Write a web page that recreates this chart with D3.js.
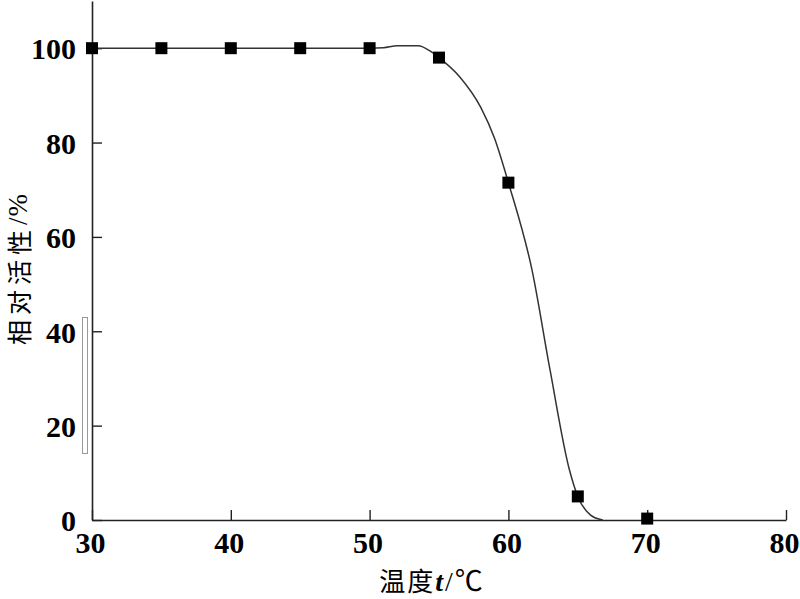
<!DOCTYPE html>
<html>
<head>
<meta charset="utf-8">
<script src="https://cdn.jsdelivr.net/npm/d3@7"></script>
<style>
  html, body { margin: 0; padding: 0; background: #fff; }
  svg { display: block; }
</style>
</head>
<body>
<svg id="chart" width="800" height="599"></svg>
<script>
// measured points
const temps = [30, 35, 40, 45, 50, 55, 60, 65, 70];
const activity = [100, 100, 100, 100, 100, 98, 71.5, 5, 0.3];
// fitted curve
const curveT = [30, 50, 51, 52, 53.5, 54.4, 55, 56.5, 58, 59, 60, 61.7, 63, 64.4, 65, 65.9, 66.8];
const curveA = [100, 100, 100.1, 100.5, 100.5, 99.3, 98, 93.9, 87.5, 80.9, 71.5, 53, 31.8, 10.6, 5, 1.1, 0];
const xTicks = [30, 40, 50, 60, 70, 80];
const yTicks = [0, 20, 40, 60, 80, 100];

const svg = d3.select("#chart");
const x = d3.scaleLinear().domain([30, 80]).range([92, 786]);
const y = d3.scaleLinear().domain([0, 110]).range([520, 1]);

const serif = "'Liberation Serif', 'Times New Roman', serif";
const cjk = "'Noto Sans CJK SC', sans-serif";

// artifact rectangle next to the y axis
svg.append("rect")
  .attr("x", 82.5).attr("y", 317.5).attr("width", 5).attr("height", 136)
  .attr("fill", "#fff").attr("stroke", "#999").attr("stroke-width", 1);

// x axis
const gx = svg.append("g").attr("transform", "translate(0,520)")
  .call(d3.axisBottom(x).tickValues(xTicks).tickSizeInner(-10).tickSizeOuter(0).tickPadding(12));
gx.select(".domain").attr("stroke", "#222").attr("stroke-width", 1.6);
gx.selectAll(".tick line").attr("stroke", "#222").attr("stroke-width", 1.4);
gx.selectAll(".tick text")
  .attr("font-family", serif).attr("font-size", 30).attr("font-weight", "bold").attr("fill", "#000")
  .attr("dx", -2);

// y axis
const gy = svg.append("g").attr("transform", "translate(92,0)")
  .call(d3.axisLeft(y).tickValues(yTicks).tickSizeInner(-10).tickSizeOuter(0).tickPadding(16));
gy.select(".domain").attr("stroke", "#222").attr("stroke-width", 1.6);
gy.selectAll(".tick line").attr("stroke", "#222").attr("stroke-width", 1.4);
gy.selectAll(".tick text")
  .attr("font-family", serif).attr("font-size", 30).attr("font-weight", "bold").attr("fill", "#000")
  .attr("dy", "0.36em");

// curve
const curveData = curveT.map((t, i) => [t, curveA[i]]);
svg.append("path")
  .datum(curveData)
  .attr("fill", "none").attr("stroke", "#333").attr("stroke-width", 1.5)
  .attr("d", d3.line().x(d => x(d[0])).y(d => y(d[1])).curve(d3.curveMonotoneX));

// markers
const pts = temps.map((t, i) => [t, activity[i]]);
svg.selectAll("rect.pt").data(pts).enter().append("rect")
  .attr("class", "pt")
  .attr("x", d => x(d[0]) - 6).attr("y", d => y(d[1]) - 6)
  .attr("width", 12).attr("height", 12).attr("fill", "#000");

// axis titles
const yt = svg.append("text")
  .attr("transform", "translate(18,269) rotate(-90)")
  .attr("text-anchor", "middle").attr("dominant-baseline", "central")
  .attr("font-family", cjk).attr("font-size", 25).attr("fill", "#000")
  .attr("letter-spacing", 5);
yt.append("tspan").text("相对活性");
yt.append("tspan").attr("font-family", serif).attr("font-size", 27).attr("letter-spacing", 1).text("/%");

const xt = svg.append("text")
  .attr("x", 432).attr("y", 591)
  .attr("text-anchor", "middle")
  .attr("font-family", cjk).attr("font-size", 26).attr("fill", "#000")
  .attr("letter-spacing", 2);
xt.append("tspan").text("温度");
xt.append("tspan").attr("font-family", serif).attr("font-style", "italic").attr("font-weight", "bold").attr("font-size", 28).text("t");
xt.append("tspan").attr("font-family", serif).attr("font-size", 28).text("/");
xt.append("tspan").attr("font-size", 28).text("℃");
</script>
</body>
</html>
